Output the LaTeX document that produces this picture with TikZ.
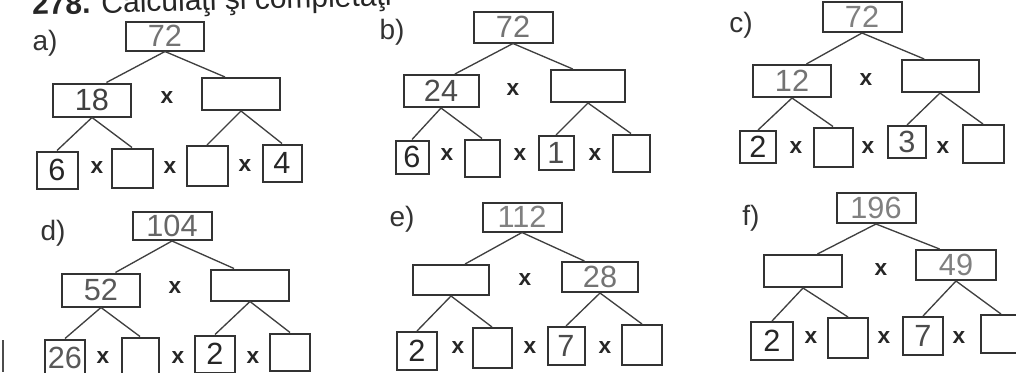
\documentclass[tikz,border=0pt]{standalone}
\usepackage{fontspec}
\setmainfont{Liberation Sans}
\usetikzlibrary{calc}
\newdimen\pu \pu=0.75pt
\tikzset{
  box/.style={draw=black!80, line width=1.5pt, inner sep=0pt, font=\fontsize{23}{23}\selectfont},
  wbox/.style={box, minimum width=78\pu, minimum height=31\pu, text=black!60},
  sbox/.style={box, minimum width=39\pu, minimum height=37\pu, text=black!85},
  times/.style={inner sep=0pt, font=\fontsize{17}{17}\selectfont\bfseries, text=black!85},
  lab/.style={inner sep=0pt, font=\fontsize{21}{21}\selectfont, text=black!80},
  conn/.style={draw=black!75, line width=1pt},
}
\newcommand\treeconn[1]{%
  \draw[conn] (#1T.south) -- ($(#1L.north west)!0.68!(#1L.north east)$);
  \draw[conn] (#1T.south) -- ($(#1R.north west)!0.3!(#1R.north east)$);
  \draw[conn] (#1L.south) -- (#1B1.north);
  \draw[conn] (#1L.south) -- (#1B2.north);
  \draw[conn] (#1R.south) -- (#1B3.north);
  \draw[conn] (#1R.south) -- (#1B4.north);
}
\begin{document}
\begin{tikzpicture}[x=0.75pt,y=-0.75pt]
\useasboundingbox (0,0) rectangle (1016,372);
\clip (0,0) rectangle (1016,372);
\fill[white] (0,0) rectangle (1016,372);
% header (cut off at the top edge, slightly tilted like the scan)
\node[anchor=base west, inner sep=0pt, rotate=1.5, font=\fontsize{22.5}{22.5}\selectfont, text=black!85] (hdr) at (32,15) {\textbf{278.} Calculaţi şi completaţi};
% stray box edge at bottom left
\draw[line width=1.5pt, black!70] (3,340) -- (3,372);

% ---- a)
\node[lab] (aLab) at (45,43) {a)};
\node[wbox, minimum height=29\pu, text=black!55] (aT) at (165,36) {72};
\node[wbox, minimum height=33\pu, text=black!75] (aL) at (92,100) {18};
\node[wbox, minimum height=32\pu] (aR) at (241,94) {};
\node[times] (axm) at (167,98) {x};
\node[sbox, minimum width=41\pu] (aB1) at (57,170) {6};
\node[sbox, minimum width=41\pu, minimum height=39\pu] (aB2) at (132,168) {};
\node[sbox, minimum width=41\pu, minimum height=40\pu] (aB3) at (207,166) {};
\node[sbox] (aB4) at (282,163) {4};
\node[times] (ax1) at (97,168) {x};
\node[times] (ax2) at (170,168) {x};
\node[times] (ax3) at (245,166) {x};
\treeconn{a}

% ---- b)
\node[lab] (bLab) at (392,32) {b)};
\node[wbox, minimum width=79\pu, text=black!55] (bT) at (513,27) {72};
\node[wbox, minimum width=75\pu, minimum height=32\pu, text=black!70] (bL) at (441,91) {24};
\node[wbox, minimum width=74\pu, minimum height=32\pu] (bR) at (588,86) {};
\node[times] (bxm) at (513,90) {x};
\node[sbox, minimum width=33\pu, minimum height=33\pu] (bB1) at (412,157) {6};
\node[sbox, minimum width=35\pu] (bB2) at (482,158) {};
\node[sbox, minimum width=35\pu, minimum height=34\pu, text=black!70] (bB3) at (556,153) {1};
\node[sbox, minimum width=37\pu] (bB4) at (631,153) {};
\node[times] (bx1) at (447,155) {x};
\node[times] (bx2) at (520,155) {x};
\node[times] (bx3) at (595,155) {x};
\treeconn{b}

% ---- c)
\node[lab] (cLab) at (741,25) {c)};
\node[wbox, minimum width=79\pu, minimum height=30\pu, text=black!50] (cT) at (862,17) {72};
\node[wbox, minimum height=32\pu, text=black!55] (cL) at (792,81) {12};
\node[wbox, minimum width=77\pu, minimum height=32\pu] (cR) at (940,76) {};
\node[times] (cxm) at (866,80) {x};
\node[sbox, minimum width=36\pu, minimum height=32\pu] (cB1) at (758,147) {2};
\node[sbox, minimum width=39\pu, minimum height=39\pu] (cB2) at (833,147) {};
\node[sbox, minimum width=38\pu, minimum height=32\pu, text=black!70] (cB3) at (907,142) {3};
\node[sbox, minimum width=41\pu, minimum height=38\pu] (cB4) at (983,144) {};
\node[times] (cx1) at (796,148) {x};
\node[times] (cx2) at (868,148) {x};
\node[times] (cx3) at (943,148) {x};
\treeconn{c}

% ---- d)
\node[lab] (dLab) at (53,233) {d)};
\node[wbox, minimum width=79\pu, minimum height=28\pu, text=black!60] (dT) at (172,226) {104};
\node[wbox, minimum height=33\pu, text=black!65] (dL) at (101,290) {52};
\node[wbox, minimum height=31\pu] (dR) at (250,285) {};
\node[times] (dxm) at (175,288) {x};
\node[sbox, minimum width=40\pu, text=black!65] (dB1) at (65,358) {26};
\node[sbox, minimum width=37\pu] (dB2) at (140,356) {};
\node[sbox, minimum width=40\pu] (dB3) at (215,354) {2};
\node[sbox, minimum width=40\pu] (dB4) at (290,352) {};
\node[times] (dx1) at (103,358) {x};
\node[times] (dx2) at (178,358) {x};
\node[times] (dx3) at (253,358) {x};
\treeconn{d}

% ---- e)
\node[lab] (eLab) at (402,219) {e)};
\node[wbox, minimum width=79\pu, minimum height=29\pu, text=black!50] (eT) at (522,217) {112};
\node[wbox, minimum width=76\pu, minimum height=30\pu] (eL) at (451,280) {};
\node[wbox, minimum width=76\pu, minimum height=30\pu, text=black!55] (eR) at (600,277) {28};
\node[times] (exm) at (525,280) {x};
\node[sbox, minimum width=40\pu, minimum height=38\pu] (eB1) at (417,351) {2};
\node[sbox, minimum width=39\pu, minimum height=40\pu] (eB2) at (492,348) {};
\node[sbox, minimum width=37\pu, minimum height=38\pu, text=black!70] (eB3) at (566,346) {7};
\node[sbox, minimum width=40\pu, minimum height=40\pu] (eB4) at (642,345) {};
\node[times] (ex1) at (458,348) {x};
\node[times] (ex2) at (530,348) {x};
\node[times] (ex3) at (605,348) {x};
\treeconn{e}

% ---- f)
\node[lab] (fLab) at (751,218) {f)};
\node[wbox, minimum width=79\pu, minimum height=30\pu, text=black!50] (fT) at (876,208) {196};
\node[wbox, minimum height=32\pu] (fL) at (803,271) {};
\node[wbox, minimum width=80\pu, minimum height=30\pu, text=black!50] (fR) at (956,265) {49};
\node[times] (fxm) at (881,270) {x};
\node[sbox, minimum width=42\pu, minimum height=38\pu] (fB1) at (772,341) {2};
\node[sbox, minimum width=40\pu, minimum height=40\pu] (fB2) at (848,338) {};
\node[sbox, minimum width=40\pu, minimum height=38\pu, text=black!70] (fB3) at (923,336) {7};
\node[sbox, minimum width=40\pu, minimum height=38\pu] (fB4) at (1001,334) {};
\node[times] (fx1) at (811,338) {x};
\node[times] (fx2) at (884,338) {x};
\node[times] (fx3) at (959,338) {x};
\treeconn{f}
\end{tikzpicture}
\end{document}
